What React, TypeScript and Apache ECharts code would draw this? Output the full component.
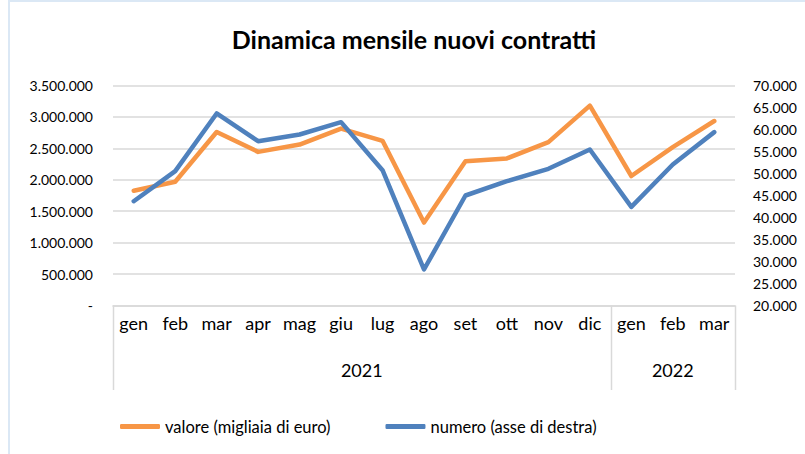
import React, { useEffect, useRef } from "react";
import * as echarts from "echarts";

const months = ["gen", "feb", "mar", "apr", "mag", "giu", "lug", "ago", "set", "ott", "nov", "dic", "gen", "feb", "mar"];
const yearLabels = ["2021", "2022"];
const yearSpans = [12, 3];
const valore = [1826000, 1969000, 2760000, 2444000, 2560000, 2814000, 2620000, 1320000, 2296000, 2340000, 2600000, 3180000, 2060000, 2520000, 2935000];
const numero = [43700, 50530, 63640, 57340, 58870, 61670, 50750, 28180, 45000, 48250, 51070, 55460, 42430, 52050, 59400];
const seriesNames = ["valore (migliaia di euro)", "numero (asse di destra)"];

const FONT = "Lato, 'Noto Sans', sans-serif";
const W = 805;
const H = 454;
const GRID = { left: 113, right: 70, top: 85.5, bottom: 148.5 };

function fmt(v: number): string {
  if (v === 0) return "-";
  return String(Math.round(v)).replace(/\B(?=(\d{3})+(?!\d))/g, ".");
}

export default function App() {
  const ref = useRef<HTMLDivElement>(null);
  useEffect(() => {
    if (!ref.current) return;
    const chart = echarts.init(ref.current, undefined, { renderer: "svg" });
    const plotW = W - GRID.left - GRID.right;
    const axisY = H - GRID.bottom;
    const cw = plotW / months.length;
    const graphics: any[] = [
      { type: "line", shape: { x1: 9, y1: 0, x2: 9, y2: H }, style: { stroke: "#dbe8f5", lineWidth: 2 } },
      { type: "line", shape: { x1: 9, y1: 1, x2: W, y2: 1 }, style: { stroke: "#dbe8f5", lineWidth: 2 } },
      {
        type: "text",
        x: 414,
        y: 39,
        style: {
          text: "Dinamica mensile nuovi contratti",
          font: `bold 25px ${FONT}`,
          fill: "#000",
          align: "center",
          verticalAlign: "middle",
        },
      },
    ];
    let start = 0;
    const bounds = [0];
    yearSpans.forEach((span, i) => {
      const cx = GRID.left + (start + span / 2) * cw;
      graphics.push({
        type: "text",
        x: cx,
        y: 370,
        style: { text: yearLabels[i], font: `18px ${FONT}`, fill: "#000", align: "center", verticalAlign: "middle" },
      });
      start += span;
      bounds.push(start);
    });
    bounds.forEach((b) => {
      const x = Math.round(GRID.left + b * cw) + 0.5;
      graphics.push({ type: "line", shape: { x1: x, y1: axisY, x2: x, y2: 390 }, style: { stroke: "#d9d9d9", lineWidth: 1.5 } });
    });

    chart.setOption({
      animation: false,
      backgroundColor: "#fff",
      legend: {
        left: 115,
        top: 413,
        icon: "roundRect",
        itemWidth: 40,
        itemHeight: 5,
        itemGap: 55,
        data: seriesNames,
        textStyle: { fontFamily: FONT, fontSize: 16.5, color: "#000" },
      },
      grid: { ...GRID },
      xAxis: {
        type: "category",
        data: months,
        boundaryGap: true,
        axisLine: { show: true, lineStyle: { color: "#d9d9d9", width: 1.5 } },
        axisTick: { show: false },
        axisLabel: { interval: 0, margin: 8, fontFamily: FONT, fontSize: 18, color: "#000" },
      },
      yAxis: [
        {
          type: "value",
          min: 0,
          max: 3500000,
          interval: 500000,
          axisLine: { show: false },
          axisTick: { show: false },
          splitLine: { show: true, lineStyle: { color: "#d9d9d9", width: 1.5 } },
          axisLabel: { margin: 20, fontFamily: FONT, fontSize: 14, color: "#000", formatter: (v: number) => fmt(v) },
        },
        {
          type: "value",
          min: 20000,
          max: 70000,
          interval: 5000,
          position: "right",
          axisLine: { show: false },
          axisTick: { show: false },
          splitLine: { show: false },
          axisLabel: { margin: 18, fontFamily: FONT, fontSize: 14, color: "#000", formatter: (v: number) => fmt(v) },
        },
      ],
      series: [
        {
          name: seriesNames[0],
          type: "line",
          data: valore,
          yAxisIndex: 0,
          symbol: "none",
          color: "#F79646",
          lineStyle: { width: 4.5, color: "#F79646", cap: "round", join: "round" },
        },
        {
          name: seriesNames[1],
          type: "line",
          data: numero,
          yAxisIndex: 1,
          symbol: "none",
          color: "#4F81BD",
          lineStyle: { width: 4.5, color: "#4F81BD", cap: "round", join: "round" },
        },
      ],
      graphic: graphics,
    });
    return () => chart.dispose();
  }, []);
  return <div ref={ref} style={{ position: "absolute", left: 0, top: 0, width: W, height: H }} />;
}
